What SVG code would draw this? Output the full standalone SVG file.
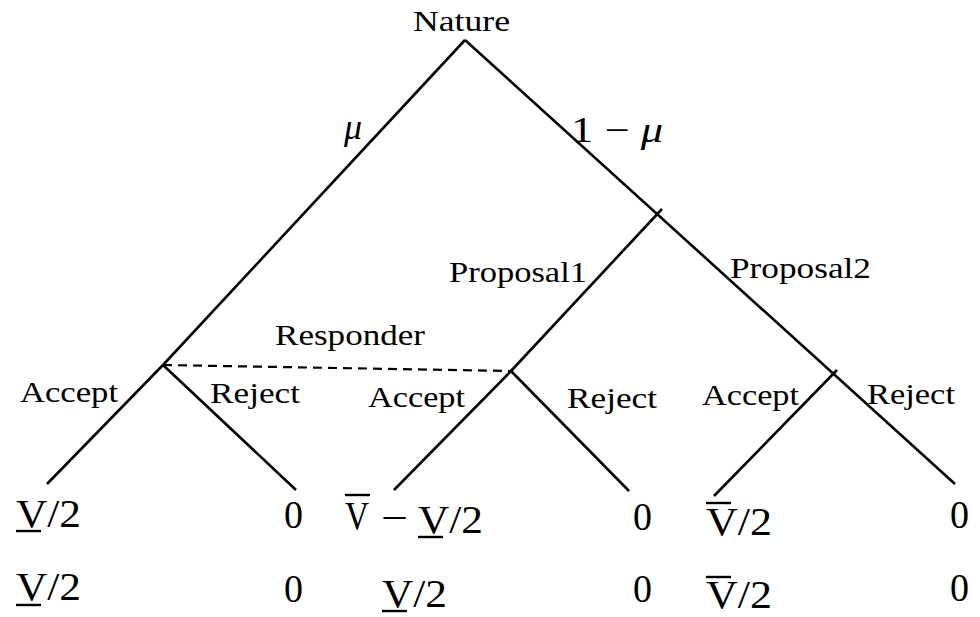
<svg xmlns="http://www.w3.org/2000/svg" width="980" height="617" viewBox="0 0 980 617">
<style>
.e{stroke:#000;stroke-width:2.6;fill:none;stroke-linecap:butt}
.d{stroke:#000;stroke-width:2.2;fill:none;stroke-dasharray:9 6}
.bar{stroke:#000;stroke-width:2.4}
.l{font-family:"Liberation Serif","Times New Roman",serif;font-size:30px;fill:#000}
.p{font-family:"Liberation Serif","DejaVu Serif",serif;font-size:40px;fill:#000}
.m{font-family:"Liberation Serif","DejaVu Serif",serif;font-size:36px;fill:#000}
</style>
<rect width="980" height="617" fill="#fff"/>
<g id="connectors">
<line class="e" x1="465" y1="40" x2="163" y2="365"/>
<line class="e" x1="163" y1="365" x2="47" y2="484"/>
<line class="e" x1="163" y1="365" x2="296" y2="490"/>
<line class="e" x1="465" y1="40" x2="955" y2="484"/>
<line class="e" x1="662" y1="209" x2="511" y2="371"/>
<line class="e" x1="513" y1="369" x2="394" y2="490"/>
<line class="e" x1="511" y1="371" x2="629" y2="491"/>
<line class="e" x1="837" y1="370" x2="714" y2="496"/>
<line class="d" x1="163" y1="365" x2="511" y2="371"/>
</g>
<g id="nature"><text class="l" x="413" y="31" textLength="97" lengthAdjust="spacingAndGlyphs">Nature</text></g>
<g id="branch-mu"><text class="m" x="344" y="139" font-style="italic">μ</text></g>
<g id="branch-1-mu"><text class="m" x="571" y="142" textLength="92" lengthAdjust="spacingAndGlyphs">1 − <tspan font-style="italic">μ</tspan></text></g>
<g id="proposer">
<text class="l" x="449" y="282" textLength="138" lengthAdjust="spacingAndGlyphs">Proposal1</text>
<text class="l" x="730" y="278" textLength="141" lengthAdjust="spacingAndGlyphs">Proposal2</text>
</g>
<g id="responder"><text class="l" x="275" y="345" textLength="150" lengthAdjust="spacingAndGlyphs">Responder</text></g>
<g id="responder-left">
<text class="l" x="20" y="402" textLength="98" lengthAdjust="spacingAndGlyphs">Accept</text>
<text class="l" x="210" y="403" textLength="90" lengthAdjust="spacingAndGlyphs">Reject</text>
</g>
<g id="responder-mid">
<text class="l" x="368" y="407" textLength="97" lengthAdjust="spacingAndGlyphs">Accept</text>
<text class="l" x="567" y="408" textLength="90" lengthAdjust="spacingAndGlyphs">Reject</text>
</g>
<g id="responder-right">
<text class="l" x="702" y="405" textLength="97" lengthAdjust="spacingAndGlyphs">Accept</text>
<text class="l" x="867" y="404" textLength="88" lengthAdjust="spacingAndGlyphs">Reject</text>
</g>
<g id="payoff-1">
<text class="p" x="16" y="527" textLength="65" lengthAdjust="spacingAndGlyphs">V/2</text>
<line class="bar" x1="16" y1="531" x2="41" y2="531"/>
<text class="p" x="16" y="600" textLength="65" lengthAdjust="spacingAndGlyphs">V/2</text>
<line class="bar" x1="16" y1="605" x2="41" y2="605"/>
</g>
<g id="payoff-2">
<text class="p" x="284" y="528" textLength="19" lengthAdjust="spacingAndGlyphs">0</text>
<text class="p" x="284" y="602" textLength="19" lengthAdjust="spacingAndGlyphs">0</text>
</g>
<g id="payoff-3">
<text class="p" x="345" y="529" textLength="24" lengthAdjust="spacingAndGlyphs">V</text>
<line class="bar" x1="345" y1="495" x2="370" y2="495"/>
<text class="p" x="381" y="531" textLength="27" lengthAdjust="spacingAndGlyphs">−</text>
<text class="p" x="418" y="533" textLength="65" lengthAdjust="spacingAndGlyphs">V/2</text>
<line class="bar" x1="418" y1="537" x2="443" y2="537"/>
<text class="p" x="382" y="607" textLength="65" lengthAdjust="spacingAndGlyphs">V/2</text>
<line class="bar" x1="382" y1="611" x2="407" y2="611"/>
</g>
<g id="payoff-4">
<text class="p" x="633" y="530" textLength="19" lengthAdjust="spacingAndGlyphs">0</text>
<text class="p" x="633" y="602" textLength="19" lengthAdjust="spacingAndGlyphs">0</text>
</g>
<g id="payoff-5">
<text class="p" x="706" y="535" textLength="66" lengthAdjust="spacingAndGlyphs">V/2</text>
<line class="bar" x1="706" y1="503" x2="731" y2="503"/>
<text class="p" x="706" y="608" textLength="66" lengthAdjust="spacingAndGlyphs">V/2</text>
<line class="bar" x1="706" y1="577" x2="731" y2="577"/>
</g>
<g id="payoff-6">
<text class="p" x="950" y="528" textLength="19" lengthAdjust="spacingAndGlyphs">0</text>
<text class="p" x="950" y="601" textLength="19" lengthAdjust="spacingAndGlyphs">0</text>
</g>
</svg>
